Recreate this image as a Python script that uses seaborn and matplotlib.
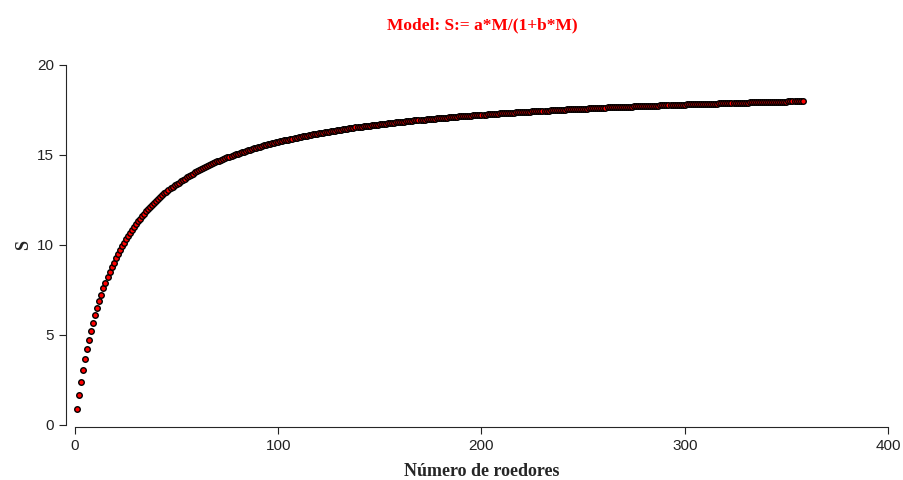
import numpy as np
import seaborn as sns
import matplotlib
matplotlib.use('Agg')
import matplotlib.pyplot as plt

sns.set_style("ticks")
plt.rcParams['font.family'] = ['Liberation Sans', 'DejaVu Sans']

## S, one value per rodent count (M = 1..358)
S = [
    0.90, 1.65, 2.37, 3.03, 3.64, 4.21, 4.74, 5.23, 5.69, 6.12,
    6.52, 6.90, 7.25, 7.59, 7.91, 8.21, 8.49, 8.76, 9.02, 9.26,
    9.49, 9.72, 9.93, 10.13, 10.32, 10.51, 10.69, 10.86, 11.02, 11.18,
    11.33, 11.47, 11.61, 11.75, 11.88, 12.00, 12.13, 12.24, 12.36, 12.47,
    12.57, 12.67, 12.77, 12.87, 12.96, 13.05, 13.14, 13.23, 13.31, 13.39,
    13.47, 13.55, 13.62, 13.69, 13.76, 13.83, 13.90, 13.97, 14.03, 14.09,
    14.15, 14.21, 14.27, 14.32, 14.38, 14.43, 14.49, 14.54, 14.59, 14.64,
    14.68, 14.73, 14.78, 14.82, 14.87, 14.91, 14.95, 14.99, 15.03, 15.07,
    15.11, 15.15, 15.19, 15.22, 15.26, 15.30, 15.33, 15.37, 15.40, 15.43,
    15.46, 15.50, 15.53, 15.56, 15.59, 15.62, 15.65, 15.68, 15.70, 15.73,
    15.76, 15.79, 15.81, 15.84, 15.86, 15.89, 15.91, 15.94, 15.96, 15.99,
    16.01, 16.03, 16.05, 16.08, 16.10, 16.12, 16.14, 16.16, 16.18, 16.20,
    16.22, 16.24, 16.26, 16.28, 16.30, 16.32, 16.34, 16.36, 16.37, 16.39,
    16.41, 16.43, 16.44, 16.46, 16.48, 16.49, 16.51, 16.53, 16.54, 16.56,
    16.57, 16.59, 16.60, 16.62, 16.63, 16.65, 16.66, 16.68, 16.69, 16.70,
    16.72, 16.73, 16.74, 16.76, 16.77, 16.78, 16.80, 16.81, 16.82, 16.83,
    16.85, 16.86, 16.87, 16.88, 16.89, 16.91, 16.92, 16.93, 16.94, 16.95,
    16.96, 16.97, 16.98, 16.99, 17.00, 17.01, 17.02, 17.03, 17.05, 17.06,
    17.07, 17.07, 17.08, 17.09, 17.10, 17.11, 17.12, 17.13, 17.14, 17.15,
    17.16, 17.17, 17.18, 17.19, 17.19, 17.20, 17.21, 17.22, 17.23, 17.24,
    17.24, 17.25, 17.26, 17.27, 17.28, 17.28, 17.29, 17.30, 17.31, 17.32,
    17.32, 17.33, 17.34, 17.34, 17.35, 17.36, 17.37, 17.37, 17.38, 17.39,
    17.39, 17.40, 17.41, 17.41, 17.42, 17.43, 17.43, 17.44, 17.45, 17.45,
    17.46, 17.47, 17.47, 17.48, 17.49, 17.49, 17.50, 17.50, 17.51, 17.52,
    17.52, 17.53, 17.53, 17.54, 17.54, 17.55, 17.56, 17.56, 17.57, 17.57,
    17.58, 17.58, 17.59, 17.59, 17.60, 17.60, 17.61, 17.62, 17.62, 17.63,
    17.63, 17.64, 17.64, 17.65, 17.65, 17.66, 17.66, 17.67, 17.67, 17.67,
    17.68, 17.68, 17.69, 17.69, 17.70, 17.70, 17.71, 17.71, 17.72, 17.72,
    17.73, 17.73, 17.73, 17.74, 17.74, 17.75, 17.75, 17.76, 17.76, 17.76,
    17.77, 17.77, 17.78, 17.78, 17.78, 17.79, 17.79, 17.80, 17.80, 17.80,
    17.81, 17.81, 17.82, 17.82, 17.82, 17.83, 17.83, 17.83, 17.84, 17.84,
    17.85, 17.85, 17.85, 17.86, 17.86, 17.86, 17.87, 17.87, 17.87, 17.88,
    17.88, 17.88, 17.89, 17.89, 17.89, 17.90, 17.90, 17.90, 17.91, 17.91,
    17.91, 17.92, 17.92, 17.92, 17.93, 17.93, 17.93, 17.94, 17.94, 17.94,
    17.95, 17.95, 17.95, 17.96, 17.96, 17.96, 17.96, 17.97, 17.97, 17.97,
    17.98, 17.98, 17.98, 17.98, 17.99, 17.99, 17.99, 18.00,
]
M = list(range(1, len(S) + 1))

x_ticks = [0, 100, 200, 300, 400]
y_ticks = [0, 5, 10, 15, 20]
title = 'Model: S:= a*M/(1+b*M)'
x_label = 'Número de roedores'
y_label = 'S'

fig = plt.figure(figsize=(9.04, 4.8), dpi=100)
ax = fig.add_axes([75/904, 55/480, 813/904, 360/480])
sns.scatterplot(x=M, y=S, ax=ax, s=16, color='#ff0000', edgecolor='black',
                linewidth=1.0, clip_on=False, zorder=3)
ax.set_xlim(0, 400)
ax.set_ylim(0, 20)
ax.set_xticks(x_ticks)
ax.set_yticks(y_ticks)
ax.tick_params(labelsize=11, colors='#222222', length=5)
sns.despine(ax=ax)
ax.spines['left'].set_position(('outward', 6.5))
ax.spines['bottom'].set_position(('outward', 1.5))

serif = ['Liberation Serif', 'DejaVu Serif']
ax.set_xlabel(x_label, family=serif, fontweight='bold', fontsize=13, labelpad=7)
ax.set_ylabel(y_label, family=serif, fontweight='bold', fontsize=13)
fig.text(0.533, 0.948, title, family=serif, fontweight='bold',
         fontsize=12.5, color='red', ha='center', va='center')

plt.savefig('out.png', dpi=100)
